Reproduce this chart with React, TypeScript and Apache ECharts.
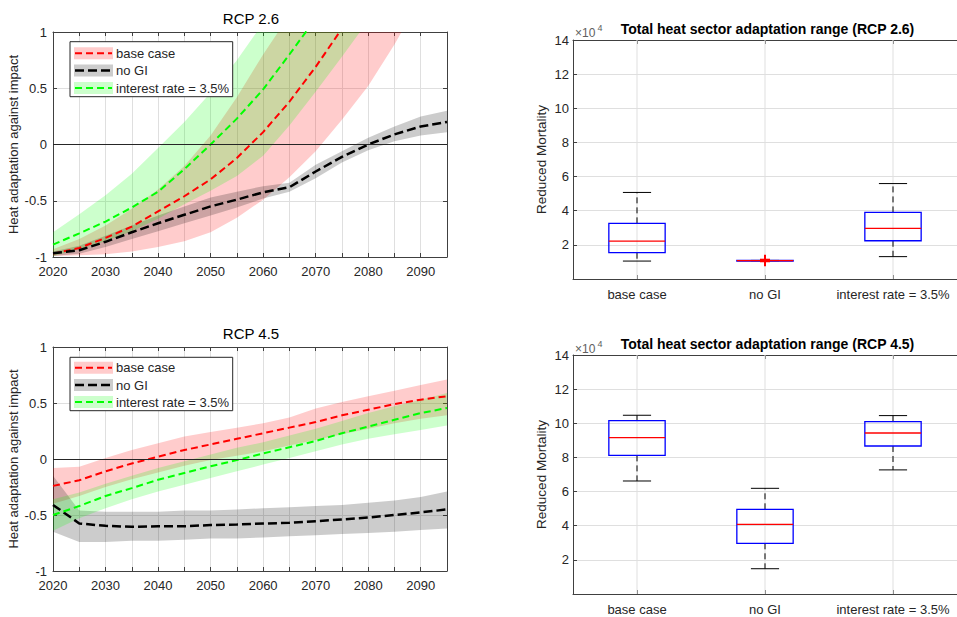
import React, { useEffect, useRef } from 'react';
import * as echarts from 'echarts';

const FONT = '"Liberation Sans", Arial, Helvetica, sans-serif';

const YEARS = [2020, 2025, 2030, 2035, 2040, 2045, 2050, 2055, 2060, 2065, 2070, 2075, 2080, 2085, 2090, 2095];

// ---- RCP 2.6 (left top) ----
const rcp26BaseMid = [-0.97, -0.92, -0.83, -0.73, -0.595, -0.46, -0.31, -0.12, 0.11, 0.38, 0.69, 1.03, 1.4, 1.8, 2.2];
const rcp26BaseLow = [-0.99, -0.985, -0.975, -0.95, -0.91, -0.86, -0.78, -0.65, -0.49, -0.29, -0.06, 0.22, 0.52, 0.89, 1.3];
const rcp26BaseHigh = [-0.93, -0.84, -0.72, -0.57, -0.4, -0.19, 0.08, 0.42, 0.8, 1.15, 1.5, 1.9, 2.3, 2.7, 3.1];

const rcp26NoGiMid = [-0.967, -0.94, -0.865, -0.78, -0.7, -0.625, -0.55, -0.49, -0.425, -0.38, -0.24, -0.11, 0.0, 0.09, 0.16, 0.2];
const rcp26NoGiLow = [-0.99, -0.97, -0.91, -0.84, -0.77, -0.7, -0.63, -0.56, -0.48, -0.42, -0.3, -0.16, -0.05, 0.03, 0.08, 0.11];
const rcp26NoGiHigh = [-0.95, -0.9, -0.81, -0.72, -0.63, -0.55, -0.47, -0.42, -0.37, -0.34, -0.18, -0.06, 0.06, 0.16, 0.25, 0.3];

const rcp26RateMid = [-0.89, -0.79, -0.685, -0.56, -0.42, -0.22, 0.0, 0.23, 0.49, 0.8, 1.12, 1.45, 1.8];
const rcp26RateLow = [-0.99, -0.93, -0.86, -0.77, -0.66, -0.53, -0.41, -0.28, -0.1, 0.17, 0.47, 0.78, 1.1];
const rcp26RateHigh = [-0.78, -0.62, -0.45, -0.26, -0.03, 0.2, 0.46, 0.75, 1.08, 1.4, 1.75, 2.1, 2.45];

// ---- RCP 4.5 (left bottom) ----
const rcp45BaseMid = [-0.24, -0.19, -0.11, -0.04, 0.02, 0.08, 0.13, 0.18, 0.23, 0.28, 0.33, 0.39, 0.44, 0.49, 0.53, 0.56];
const rcp45BaseLow = [-0.4, -0.33, -0.25, -0.18, -0.12, -0.06, -0.01, 0.03, 0.07, 0.12, 0.17, 0.22, 0.27, 0.32, 0.36, 0.39];
const rcp45BaseHigh = [-0.08, -0.07, 0.01, 0.08, 0.14, 0.2, 0.24, 0.28, 0.32, 0.37, 0.45, 0.51, 0.56, 0.61, 0.66, 0.71];

const rcp45NoGiMid = [-0.41, -0.575, -0.597, -0.606, -0.6, -0.6, -0.59, -0.585, -0.576, -0.57, -0.555, -0.54, -0.522, -0.5, -0.477, -0.45];
const rcp45NoGiLow = [-0.65, -0.74, -0.74, -0.73, -0.73, -0.72, -0.71, -0.71, -0.7, -0.69, -0.68, -0.67, -0.66, -0.65, -0.635, -0.62];
const rcp45NoGiHigh = [-0.15, -0.46, -0.47, -0.47, -0.47, -0.46, -0.46, -0.45, -0.44, -0.43, -0.42, -0.41, -0.39, -0.37, -0.34, -0.29];

const rcp45RateMid = [-0.5, -0.42, -0.33, -0.26, -0.185, -0.125, -0.065, -0.01, 0.05, 0.105, 0.16, 0.23, 0.29, 0.35, 0.41, 0.455];
const rcp45RateLow = [-0.64, -0.53, -0.44, -0.36, -0.29, -0.23, -0.17, -0.11, -0.05, 0.01, 0.07, 0.13, 0.18, 0.22, 0.26, 0.3];
const rcp45RateHigh = [-0.36, -0.3, -0.22, -0.15, -0.08, -0.02, 0.04, 0.1, 0.15, 0.21, 0.27, 0.34, 0.41, 0.47, 0.53, 0.59];

// ---- Box plots: [lower whisker, Q1, median, Q3, upper whisker] ----
const BOX_CATEGORIES = ['base case', 'no GI', 'interest rate = 3.5%'];
const box26Base = [10500, 15400, 22200, 32600, 50700];
const box26NoGi = [10700, 10750, 10800, 10850, 10900];
const box26Rate = [13100, 22400, 29600, 39000, 55900];
const box26NoGiOutliers = [10400, 10700, 11000, 11300];
const box45Base = [66200, 81200, 91600, 101600, 104700];
const box45NoGi = [14800, 29700, 40800, 49600, 61900];
const box45Rate = [72700, 86700, 94300, 101000, 104500];

const LEGEND_NAMES = ['base case', 'no GI', 'interest rate = 3.5%'];
const TITLES = ['RCP 2.6', 'RCP 4.5'];
const BOX_TITLES = ['Total heat sector adaptation range (RCP 2.6)', 'Total heat sector adaptation range (RCP 4.5)'];

const LINE_COLORS = ['#ff0000', '#000000', '#00ff00'];
const FILL_COLORS = ['rgba(255,0,0,0.2)', 'rgba(0,0,0,0.2)', 'rgba(0,255,0,0.2)'];
const PATCH_COLORS = ['#ffcccc', '#cccccc', '#ccffcc'];
const LINE_WIDTHS = [2, 2.5, 2];
const LINE_DASH = [[7, 4], [9, 4], [7, 4]];

const AXIS = '#404040';
const TXT = '#262626';
const GRIDC = '#dfdfdf';

function band(idx: number, xi: number, yi: number, low: number[], high: number[], mid: number[], stackId: string) {
  return [
    {
      type: 'line', xAxisIndex: xi, yAxisIndex: yi, stack: stackId, stackStrategy: 'all',
      data: low.slice(), symbol: 'none', showSymbol: false, silent: true,
      lineStyle: { opacity: 0, width: 0 },
    },
    {
      type: 'line', xAxisIndex: xi, yAxisIndex: yi, stack: stackId, stackStrategy: 'all',
      data: low.map((v, i) => high[i] - v), symbol: 'none', showSymbol: false, silent: true,
      lineStyle: { opacity: 0, width: 0 },
      areaStyle: { color: FILL_COLORS[idx], opacity: 1 },
    },
    {
      type: 'line', name: LEGEND_NAMES[idx], xAxisIndex: xi, yAxisIndex: yi,
      data: mid.slice(), symbol: 'none', showSymbol: false,
      lineStyle: { color: LINE_COLORS[idx], width: LINE_WIDTHS[idx], type: LINE_DASH[idx] },
    },
  ];
}

function zeroLine() {
  return {
    silent: true, symbol: ['none', 'none'], label: { show: false },
    lineStyle: { color: TXT, width: 1.2, type: 'solid' },
    data: [{ yAxis: 0 }],
  };
}

function lineXAxis(gridIndex: number, position: string) {
  const bottom = position === 'bottom';
  return {
    type: 'category', gridIndex, position, data: YEARS.map(String), boundaryGap: false,
    axisLine: { show: true, onZero: false, lineStyle: { color: AXIS, width: 1 } },
    axisTick: { show: true, inside: true, interval: 0, length: 4, lineStyle: { color: AXIS } },
    axisLabel: {
      show: bottom, interval: 0, color: TXT, fontSize: 13, fontFamily: FONT, margin: 8,
      formatter: (v: string) => (Number(v) % 10 === 0 && Number(v) < 2095 ? v : ''),
    },
    splitLine: { show: bottom, interval: 0, lineStyle: { color: GRIDC, width: 1 } },
  };
}

function lineYAxis(gridIndex: number, position: string) {
  const left = position === 'left';
  return {
    type: 'value', gridIndex, position, min: -1, max: 1, interval: 0.5,
    name: left ? 'Heat adaptation against impact' : '',
    nameLocation: 'middle', nameGap: 33, nameRotate: 90,
    nameTextStyle: { color: TXT, fontSize: 13, fontFamily: FONT },
    axisLine: { show: true, onZero: false, lineStyle: { color: AXIS, width: 1 } },
    axisTick: { show: true, inside: true, length: 4, lineStyle: { color: AXIS } },
    axisLabel: { show: left, color: TXT, fontSize: 13, fontFamily: FONT, margin: 6 },
    splitLine: { show: left, lineStyle: { color: GRIDC, width: 1 } },
  };
}

function boxXAxis(gridIndex: number, position: string) {
  const bottom = position === 'bottom';
  return {
    type: 'category', gridIndex, position, data: BOX_CATEGORIES, boundaryGap: true,
    axisLine: { show: true, onZero: false, lineStyle: { color: AXIS, width: 1 } },
    axisTick: { show: true, inside: true, alignWithLabel: true, length: 4, lineStyle: { color: AXIS } },
    axisLabel: { show: bottom, interval: 0, color: TXT, fontSize: 13, fontFamily: FONT, margin: 9 },
    splitLine: { show: false },
  };
}

function boxYAxis(gridIndex: number) {
  return {
    type: 'value', gridIndex, position: 'left', min: 0, max: 140000, interval: 20000,
    name: 'Reduced Mortality', nameLocation: 'middle', nameGap: 25, nameRotate: 90,
    nameTextStyle: { color: TXT, fontSize: 13.5, fontFamily: FONT },
    axisLine: { show: true, onZero: false, lineStyle: { color: AXIS, width: 1 } },
    axisTick: { show: true, inside: true, length: 4, lineStyle: { color: AXIS } },
    axisLabel: {
      color: TXT, fontSize: 13, fontFamily: FONT, margin: 4,
      formatter: (v: number) => (v === 0 ? '' : String(v / 10000)),
    },
    splitLine: { show: true, lineStyle: { color: GRIDC, width: 1 } },
  };
}

function renderBox(params: any, api: any) {
  const i = api.value(0);
  const lo = api.value(1), q1 = api.value(2), med = api.value(3), q3 = api.value(4), hi = api.value(5);
  const pLo = api.coord([i, lo]);
  const cx = pLo[0];
  const yLo = pLo[1];
  const yQ1 = api.coord([i, q1])[1];
  const yMed = api.coord([i, med])[1];
  const yQ3 = api.coord([i, q3])[1];
  const yHi = api.coord([i, hi])[1];
  const bw = api.size([1, 0])[0];
  const hb = bw * 0.22;
  const hc = bw * 0.11;
  const cs = params.coordSys;
  const dashed = { stroke: '#000000', lineWidth: 1, lineDash: [6, 4] };
  const solid = { stroke: '#000000', lineWidth: 1 };
  return {
    type: 'group',
    children: [
      { type: 'line', shape: { x1: cx, y1: cs.y, x2: cx, y2: cs.y + cs.height }, style: { stroke: GRIDC, lineWidth: 1 } },
      { type: 'line', shape: { x1: cx, y1: yQ1, x2: cx, y2: yLo }, style: dashed },
      { type: 'line', shape: { x1: cx, y1: yQ3, x2: cx, y2: yHi }, style: dashed },
      { type: 'line', shape: { x1: cx - hc, y1: yLo, x2: cx + hc, y2: yLo }, style: solid },
      { type: 'line', shape: { x1: cx - hc, y1: yHi, x2: cx + hc, y2: yHi }, style: solid },
      { type: 'rect', shape: { x: cx - hb, y: yQ3, width: 2 * hb, height: Math.max(yQ1 - yQ3, 0.5) }, style: { fill: 'none', stroke: '#0000ff', lineWidth: 1.3 } },
      { type: 'line', shape: { x1: cx - hb, y1: yMed, x2: cx + hb, y2: yMed }, style: { stroke: '#ff0000', lineWidth: 1.3 } },
    ],
  };
}

function renderOutlier(params: any, api: any) {
  const p = api.coord([api.value(0), api.value(1)]);
  const s = 5;
  const st = { stroke: '#ff0000', lineWidth: 2 };
  return {
    type: 'group',
    children: [
      { type: 'line', shape: { x1: p[0] - s, y1: p[1], x2: p[0] + s, y2: p[1] }, style: st },
      { type: 'line', shape: { x1: p[0], y1: p[1] - s, x2: p[0], y2: p[1] + s }, style: st },
    ],
  };
}

function boxSeries(xi: number, yi: number, boxes: number[][]) {
  return {
    type: 'custom', xAxisIndex: xi, yAxisIndex: yi,
    encode: { x: 0, y: [1, 2, 3, 4, 5] },
    data: boxes.map((b, i) => [i, ...b]),
    renderItem: renderBox,
    silent: true,
  };
}

function legendGraphics(top: number, height: number, itemYs: number[]) {
  const els: any[] = [
    { type: 'rect', z: 100, shape: { x: 70, y: top, width: 162.7, height }, style: { fill: '#ffffff', stroke: TXT, lineWidth: 1 } },
  ];
  LEGEND_NAMES.forEach((name, i) => {
    const cy = itemYs[i];
    els.push({ type: 'rect', z: 101, shape: { x: 74, y: cy - 6, width: 39, height: 12 }, style: { fill: PATCH_COLORS[i] } });
    els.push({ type: 'line', z: 102, shape: { x1: 75, y1: cy, x2: 112, y2: cy }, style: { stroke: LINE_COLORS[i], lineWidth: LINE_WIDTHS[i], lineDash: LINE_DASH[i] } });
    els.push({ type: 'text', z: 102, x: 116, y: cy, style: { text: name, fill: TXT, fontSize: 13, fontFamily: FONT, align: 'left', verticalAlign: 'middle' } });
  });
  return els;
}

function textEl(text: string, x: number, y: number, fontSize: number, fontWeight: string, fill: string, align = 'center') {
  return { type: 'text', z: 100, x, y, style: { text, fill, fontSize, fontWeight, fontFamily: FONT, align, verticalAlign: 'middle' } };
}

export default function App() {
  const ref = useRef<HTMLDivElement>(null);
  useEffect(() => {
    if (!ref.current) return;
    const chart = echarts.init(ref.current, null, { renderer: 'svg' });

    const s26 = [
      ...band(0, 0, 0, rcp26BaseLow, rcp26BaseHigh, rcp26BaseMid, 'r26'),
      ...band(1, 0, 0, rcp26NoGiLow, rcp26NoGiHigh, rcp26NoGiMid, 'k26'),
      ...band(2, 0, 0, rcp26RateLow, rcp26RateHigh, rcp26RateMid, 'g26'),
    ];
    (s26[s26.length - 1] as any).markLine = zeroLine();
    const s45 = [
      ...band(0, 2, 2, rcp45BaseLow, rcp45BaseHigh, rcp45BaseMid, 'r45'),
      ...band(1, 2, 2, rcp45NoGiLow, rcp45NoGiHigh, rcp45NoGiMid, 'k45'),
      ...band(2, 2, 2, rcp45RateLow, rcp45RateHigh, rcp45RateMid, 'g45'),
    ];
    (s45[s45.length - 1] as any).markLine = zeroLine();

    const option: any = {
      animation: false,
      backgroundColor: '#ffffff',
      textStyle: { fontFamily: FONT },
      grid: [
        { left: 53, top: 32, width: 394, height: 225 },
        { left: 53, top: 347, width: 394, height: 224 },
        { left: 573, top: 40, width: 389, height: 239 },
        { left: 573, top: 355, width: 389, height: 239 },
      ],
      xAxis: [
        lineXAxis(0, 'bottom'),
        lineXAxis(0, 'top'),
        lineXAxis(1, 'bottom'),
        lineXAxis(1, 'top'),
        boxXAxis(2, 'bottom'),
        boxXAxis(2, 'top'),
        boxXAxis(3, 'bottom'),
        boxXAxis(3, 'top'),
      ],
      yAxis: [
        lineYAxis(0, 'left'),
        lineYAxis(0, 'right'),
        lineYAxis(1, 'left'),
        lineYAxis(1, 'right'),
        boxYAxis(2),
        boxYAxis(3),
      ],
      series: [
        ...s26,
        ...s45,
        boxSeries(4, 4, [box26Base, box26NoGi, box26Rate]),
        {
          type: 'custom', xAxisIndex: 4, yAxisIndex: 4,
          encode: { x: 0, y: 1 },
          data: box26NoGiOutliers.map((v) => [1, v]),
          renderItem: renderOutlier,
          silent: true,
        },
        boxSeries(6, 5, [box45Base, box45NoGi, box45Rate]),
      ],
      graphic: [
        textEl(TITLES[0], 251, 18.5, 15, 'normal', '#000000'),
        textEl(TITLES[1], 251, 333.5, 15, 'normal', '#000000'),
        textEl(BOX_TITLES[0], 767.5, 28.5, 14, 'bold', '#000000'),
        textEl(BOX_TITLES[1], 767.5, 344, 14, 'bold', '#000000'),
        textEl('×10', 575, 32.5, 12, 'normal', '#606060', 'left'),
        textEl('4', 597.5, 28, 9, 'normal', '#606060', 'left'),
        textEl('×10', 575, 348.5, 12, 'normal', '#606060', 'left'),
        textEl('4', 597.5, 344, 9, 'normal', '#606060', 'left'),
        ...legendGraphics(41.7, 55, [53.3, 70.5, 88]),
        ...legendGraphics(357.3, 53.4, [367.7, 385, 402]),
      ],
    };
    chart.setOption(option);
    return () => chart.dispose();
  }, []);
  return <div ref={ref} style={{ position: 'absolute', left: 0, top: 0, width: 957, height: 617 }} />;
}
